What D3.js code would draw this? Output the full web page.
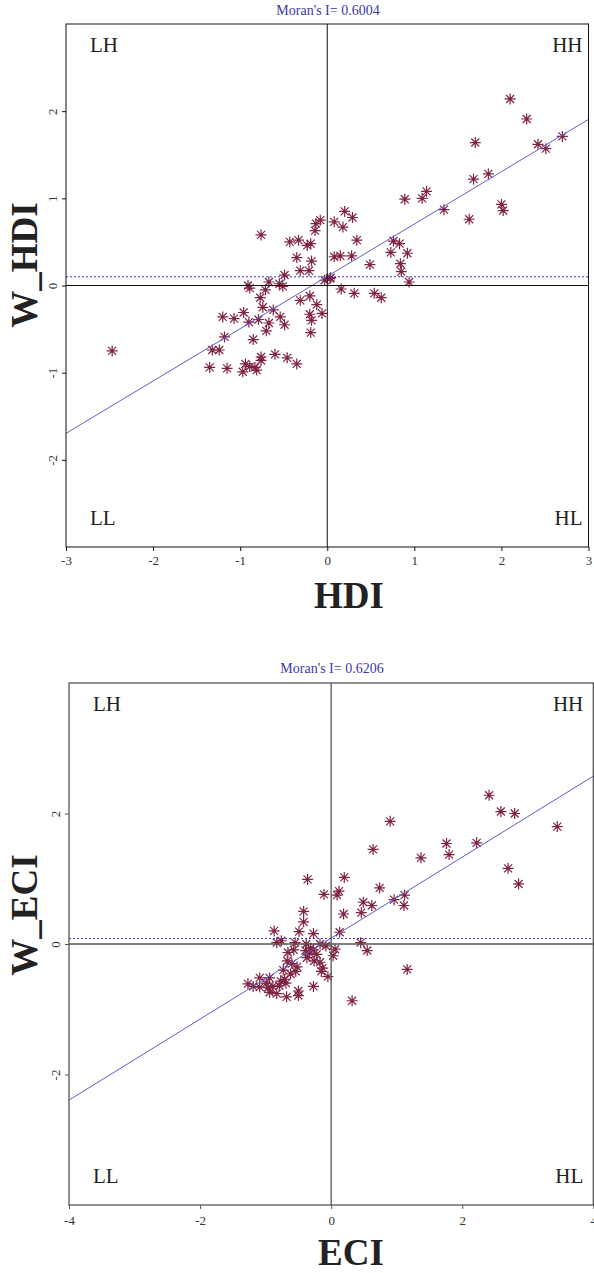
<!DOCTYPE html>
<html>
<head>
<meta charset="utf-8">
<script src="https://cdn.jsdelivr.net/npm/d3@7"></script>
<style>
  body { margin: 0; background: #ffffff; }
  svg { display: block; }
</style>
</head>
<body>
<div id="chart"></div>
<script>
// Moran scatterplots: standardized value vs spatial lag
let hdiX = [2.10, 2.29, 1.70, 2.42, 2.51, 2.70, 1.68, 1.85, 1.14, 1.09, 0.89, 1.34, 2.00, 2.02, 1.63, 0.20, 0.08, 0.18, 0.29, 0.34,
    0.76, 0.83, 0.73, 0.92, 0.08, 0.15, 0.28, 0.49, 0.84, 0.85, 0.94, 0.16, 0.31, 0.54, 0.62, 0.04,
    -0.08, -0.13, -0.14, -0.76, -0.43, -0.33, -0.23, -0.19, -0.35, -0.18, -0.31, -0.21, -0.49, -0.67, -0.91, -0.89, -0.55, -0.51,
    -0.71, -0.77, -0.03, 0.03, -0.74, -0.62, -0.31, -0.20, -0.12, -0.20, -0.06, -0.18, -0.19, -0.54, -0.67, -0.49, -0.79, -0.90,
    -0.96, -1.07, -1.20, -0.70, -0.85, -1.18, -1.32, -1.24, -0.76, -0.76, -0.60, -0.46, -0.35, -1.35, -1.15, -0.94, -0.97, -0.83,
    -0.81, -0.89, -2.47];
let hdiWX = [2.14, 1.91, 1.64, 1.62, 1.57, 1.71, 1.22, 1.28, 1.08, 1.00, 0.99, 0.87, 0.93, 0.86, 0.76, 0.85, 0.73, 0.67, 0.78, 0.52,
    0.51, 0.48, 0.38, 0.37, 0.33, 0.34, 0.34, 0.24, 0.25, 0.16, 0.04, -0.04, -0.09, -0.09, -0.14, 0.09,
    0.75, 0.71, 0.63, 0.58, 0.50, 0.52, 0.46, 0.48, 0.32, 0.28, 0.17, 0.17, 0.12, 0.04, 0.00, -0.03, 0.02, -0.01,
    -0.05, -0.14, 0.06, 0.08, -0.25, -0.28, -0.17, -0.12, -0.22, -0.33, -0.32, -0.40, -0.54, -0.36, -0.43, -0.45, -0.39, -0.42,
    -0.31, -0.38, -0.36, -0.52, -0.62, -0.59, -0.74, -0.74, -0.82, -0.86, -0.79, -0.83, -0.90, -0.94, -0.95, -0.90, -0.99, -0.94,
    -0.97, -0.93, -0.75];

let eciX = [2.41, 2.59, 2.80, 3.45, 0.90, 2.22, 1.76, 1.80, 1.37, 0.64, 2.70, 2.86, 0.20, 0.74, 0.12, 0.09, 0.96, 1.12, 1.11, 0.49,
    0.62, 0.46, 0.19, 0.13, 0.45, 0.55, 1.16, 0.06, 0.03, 0.32,
    -0.36, -0.11, -0.42, -0.42, -0.87, -0.49, -0.27, -0.83, -0.76, -0.55, -0.57, -0.38, -0.31, -0.27, -0.33, -0.22, -0.17, -0.08,
    -0.66, -0.67, -0.60, -0.52, -0.54, -0.62, -0.37, -0.26, -0.17, -0.13, -0.15, -0.05, -0.39, -0.73, -0.71, -0.77, -0.94, -1.09,
    -1.27, -1.19, -0.99, -0.96, -0.89, -0.79, -0.69, -0.83, -0.68, -0.50, -0.50, -0.27, -0.94, -1.09];
let eciWX = [2.28, 2.03, 2.00, 1.80, 1.88, 1.55, 1.54, 1.37, 1.32, 1.45, 1.16, 0.92, 1.02, 0.86, 0.81, 0.75, 0.68, 0.75, 0.59, 0.64,
    0.59, 0.48, 0.46, 0.18, 0.02, -0.10, -0.39, -0.08, -0.18, -0.87,
    0.99, 0.76, 0.50, 0.34, 0.20, 0.19, 0.16, 0.02, 0.05, 0.02, -0.09, 0.00, -0.06, -0.09, -0.14, -0.16, 0.00, -0.03,
    -0.13, -0.26, -0.30, -0.35, -0.42, -0.46, -0.21, -0.26, -0.28, -0.37, -0.42, -0.50, -0.10, -0.40, -0.54, -0.57, -0.52, -0.52,
    -0.61, -0.65, -0.60, -0.67, -0.65, -0.64, -0.60, -0.76, -0.81, -0.72, -0.79, -0.65, -0.74, -0.66];

let hdiXTicks = [-3, -2, -1, 0, 1, 2, 3];
let hdiYTicks = [-2, -1, 0, 1, 2];
let eciXTicks = [-4, -2, 0, 2, 4];
let eciYTicks = [-2, 0, 2];
let quadLabels = ["LH", "HH", "LL", "HL"];

let moranHDI = 0.6004, interceptHDI = 0.105, meanLagHDI = 0.10;
let moranECI = 0.6206, interceptECI = 0.09, meanLagECI = 0.085;

const W = 594, H = 1273;
const pointColor = "#7f2342";
const serif = "'Liberation Serif', 'DejaVu Serif', serif";

const svg = d3.select("#chart").append("svg")
    .attr("width", W)
    .attr("height", H)
    .style("background", "#fff");

// asterisk like R pch = 8
const r = 5.5, d = 4;
const star = `M${-r},0H${r}M0,${-r}V${r}M${-d},${-d}L${d},${d}M${-d},${d}L${d},${-d}`;

function drawPanel(cfg) {
    const x = d3.scaleLinear().domain(cfg.domain).range([cfg.left, cfg.right]);
    const y = d3.scaleLinear().domain(cfg.domain).range([cfg.bottom, cfg.top]);
    const g = svg.append("g");

    // title
    g.append("text")
        .attr("x", cfg.titleX)
        .attr("y", cfg.titleY)
        .attr("text-anchor", "middle")
        .style("font-family", serif)
        .style("font-size", "14px")
        .style("fill", "#3a3aa6")
        .text("Moran's I= " + cfg.moran.toFixed(4));

    // points
    g.selectAll("path.pt")
        .data(cfg.xs.map((v, i) => [v, cfg.ys[i]]))
        .enter().append("path")
        .attr("class", "pt")
        .attr("d", star)
        .attr("transform", p => `translate(${x(p[0])},${y(p[1])})`)
        .style("fill", "none")
        .style("stroke", pointColor)
        .style("stroke-width", 1.2);

    // regression line and mean lag
    const [x0, x1] = cfg.domain;
    g.append("line")
        .attr("x1", x(x0)).attr("x2", x(x1))
        .attr("y1", y(cfg.intercept + cfg.moran * x0))
        .attr("y2", y(cfg.intercept + cfg.moran * x1))
        .style("stroke", "#5b5bd0")
        .style("stroke-width", 1);

    g.append("line")
        .attr("x1", x(x0)).attr("x2", x(x1))
        .attr("y1", y(cfg.meanLag)).attr("y2", y(cfg.meanLag))
        .style("stroke", "#3535c8")
        .style("stroke-width", 1)
        .style("stroke-dasharray", "2,2");

    // zero lines
    g.append("line")
        .attr("x1", x(0)).attr("x2", x(0))
        .attr("y1", cfg.top).attr("y2", cfg.bottom)
        .style("stroke", cfg.lineColor).style("stroke-width", cfg.lineWidth);
    g.append("line")
        .attr("x1", cfg.left).attr("x2", cfg.right)
        .attr("y1", y(0)).attr("y2", y(0))
        .style("stroke", cfg.lineColor).style("stroke-width", cfg.lineWidth);

    // frame
    g.append("rect")
        .attr("x", cfg.left).attr("y", cfg.top)
        .attr("width", cfg.right - cfg.left)
        .attr("height", cfg.bottom - cfg.top)
        .style("fill", "none")
        .style("stroke", cfg.lineColor)
        .style("stroke-width", cfg.lineWidth);

    // axes
    const xAxis = g.append("g")
        .attr("transform", `translate(0,${cfg.bottom})`)
        .call(d3.axisBottom(x).tickValues(cfg.xTicks).tickSize(4).tickPadding(cfg.tickPad).tickFormat(d3.format("d")));
    const yAxis = g.append("g")
        .attr("transform", `translate(${cfg.left},0)`)
        .call(d3.axisLeft(y).tickValues(cfg.yTicks).tickSize(4).tickFormat(d3.format("d")));
    xAxis.select(".domain").remove();
    yAxis.select(".domain").remove();
    [xAxis, yAxis].forEach(a => {
        a.selectAll("line").style("stroke", cfg.lineColor);
        a.selectAll("text")
            .style("font-family", serif)
            .style("font-size", "13px")
            .style("fill", "#333");
    });
    xAxis.selectAll("text").text(v => v < 0 ? "-" + Math.abs(v) : v);
    yAxis.selectAll("text")
        .text(v => v < 0 ? "-" + Math.abs(v) : v)
        .attr("x", 0).attr("dy", 0)
        .attr("text-anchor", "middle")
        .attr("transform", "translate(-9,0) rotate(-90)");

    // quadrant labels
    const qpos = [
        [cfg.left + 24, cfg.top + 28, "start"],
        [cfg.right - cfg.rightInset, cfg.top + 28, "end"],
        [cfg.left + 24, cfg.bottom - 22, "start"],
        [cfg.right - cfg.rightInset, cfg.bottom - 22, "end"]
    ];
    quadLabels.forEach((lab, i) => {
        g.append("text")
            .attr("x", qpos[i][0]).attr("y", qpos[i][1])
            .attr("text-anchor", qpos[i][2])
            .style("font-family", serif)
            .style("font-size", "21px")
            .style("fill", "#222")
            .text(lab);
    });

    // axis titles
    g.append("text")
        .attr("x", cfg.xLabelX).attr("y", cfg.xLabelY)
        .attr("text-anchor", "middle")
        .style("font-family", serif)
        .style("font-size", "37px")
        .style("font-weight", "bold")
        .style("fill", "#222")
        .text(cfg.xLabel);
    g.append("text")
        .attr("transform", `translate(37,${cfg.yLabelY}) rotate(-90)`)
        .attr("text-anchor", "middle")
        .style("font-family", serif)
        .style("font-size", "37px")
        .style("font-weight", "bold")
        .style("fill", "#222")
        .text(cfg.yLabel);
}

drawPanel({
    xs: hdiX, ys: hdiWX, domain: [-3, 3],
    left: 66, right: 588.5, top: 24, bottom: 547,
    moran: moranHDI, intercept: interceptHDI, meanLag: meanLagHDI,
    xTicks: hdiXTicks, yTicks: hdiYTicks, tickPad: 5,
    titleX: 328, titleY: 15,
    xLabel: "HDI", xLabelX: 349, xLabelY: 608,
    yLabel: "W_HDI", yLabelY: 265,
    lineColor: "#111", lineWidth: 1, rightInset: 6
});

drawPanel({
    xs: eciX, ys: eciWX, domain: [-4, 4],
    left: 69, right: 593.3, top: 683, bottom: 1205,
    moran: moranECI, intercept: interceptECI, meanLag: meanLagECI,
    xTicks: eciXTicks, yTicks: eciYTicks, tickPad: 7,
    titleX: 332, titleY: 673,
    xLabel: "ECI", xLabelX: 351, xLabelY: 1265,
    yLabel: "W_ECI", yLabelY: 915,
    lineColor: "#555", lineWidth: 1.3, rightInset: 10
});
</script>
</body>
</html>
